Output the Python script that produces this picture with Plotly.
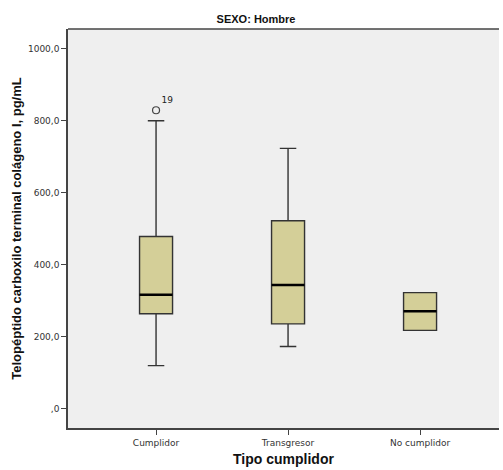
import plotly.graph_objects as go

categories = ["Cumplidor", "Transgresor", "No cumplidor"]
q1 = [263, 235, 217]
median = [316, 343, 270]
q3 = [478, 522, 322]
lowerfence = [119, 172, 217]
upperfence = [800, 723, 322]
outlier_cat = [0]
outlier_val = [829]
outlier_label = ["19"]

ytick_vals = [0, 200, 400, 600, 800, 1000]
ytick_text = [",0", "200,0", "400,0", "600,0", "800,0", "1000,0"]

pos = list(range(len(categories)))
box_w = 0.25

fig = go.Figure()
fig.add_trace(go.Box(
    x=pos, q1=q1, median=median, q3=q3,
    lowerfence=lowerfence, upperfence=upperfence,
    width=box_w, whiskerwidth=0.5,
    fillcolor="#D4CF98",
    line=dict(color="#333333", width=1.4),
    boxpoints=False, showlegend=False, hoverinfo="skip",
))

for p, m in zip(pos, median):
    fig.add_trace(go.Scatter(
        x=[p - box_w / 2, p + box_w / 2], y=[m, m], mode="lines",
        line=dict(color="#000000", width=2.6), showlegend=False, hoverinfo="skip",
    ))

fig.add_trace(go.Scatter(
    x=[pos[i] for i in outlier_cat], y=outlier_val, mode="markers+text",
    marker=dict(symbol="circle-open", size=7, color="#444444", line=dict(width=1.2)),
    text=outlier_label, textposition="top right",
    textfont=dict(family="DejaVu Sans", size=9, color="#222222"),
    showlegend=False, hoverinfo="skip",
))

fig.add_shape(type="line", xref="paper", yref="paper", x0=0, x1=1, y0=1, y1=1,
              line=dict(color="#444444", width=1.5))

fig.update_layout(
    width=503, height=470,
    margin=dict(l=68, r=4, t=29, b=42, autoexpand=False),
    paper_bgcolor="white", plot_bgcolor="#EFEFEF",
    title=dict(text="<b>SEXO: Hombre</b>", x=0.509, xanchor="center", y=0.96, yanchor="middle",
               font=dict(family="Liberation Sans", size=11, color="#111111")),
)
fig.update_xaxes(
    range=[-0.667, 2.598], tickvals=pos, ticktext=categories,
    showgrid=False, zeroline=False, automargin=False,
    showline=True, linecolor="#444444", linewidth=1.5,
    ticks="outside", ticklen=5, tickcolor="#444444",
    tickfont=dict(family="DejaVu Sans", size=9, color="#333333"),
    title=dict(text="<b>Tipo cumplidor</b>", font=dict(family="Liberation Sans", size=14, color="#111111"), standoff=8),
)
fig.update_yaxes(
    range=[-54.5, 1055], tickvals=ytick_vals, ticktext=ytick_text,
    showgrid=False, zeroline=False, automargin=False,
    showline=True, linecolor="#444444", linewidth=1.5,
    ticks="outside", ticklen=5, tickcolor="#444444",
    tickfont=dict(family="DejaVu Sans", size=9, color="#333333"),
    title=dict(text="<b>Telopéptido carboxilo terminal colágeno I, pg/mL</b>",
               font=dict(family="Liberation Sans", size=13, color="#111111"), standoff=3),
)

fig.write_html("out.html", config={"displayModeBar": False})
